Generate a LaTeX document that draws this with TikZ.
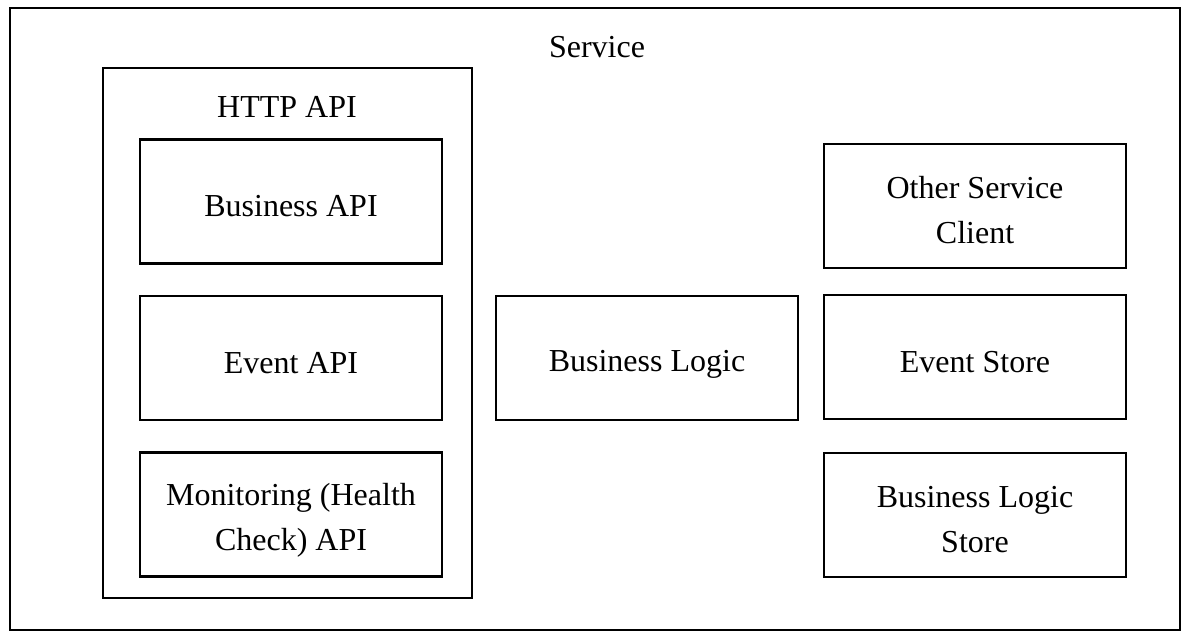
\documentclass[tikz,border=0pt]{standalone}
\usepackage{fontspec}
\setmainfont{Liberation Serif}
\newcommand\tstr{\rule[-2.8pt]{0pt}{28.8pt}}
\begin{document}
\begin{tikzpicture}[x=0.75pt,y=-0.75pt,
  box/.style={draw=black,line width=1.6pt,rectangle,inner sep=0pt,align=center,
    font=\fontsize{24}{33.75}\selectfont},
  inbox/.style={box,minimum width=302*0.75pt,minimum height=124*0.75pt},
  lbl/.style={inner sep=0pt,font=\fontsize{24}{33.75}\selectfont}]
\useasboundingbox[fill=white] (0,0) rectangle (1191,638);
\node[box,minimum width=1170*0.75pt,minimum height=622*0.75pt] (service) at (595,319) {};
\node[lbl] (servicelbl) at (597,47) {Service};
\node[box,minimum width=369*0.75pt,minimum height=530*0.75pt] (http) at (287.5,333) {};
\node[lbl] (httplbl) at (287,106.5) {HTTP API};
\node[inbox] (bapi) at (291,201.5) {\tstr Business API};
\node[inbox] (eapi) at (291,358) {\tstr Event API};
\node[inbox] (mapi) at (291,514.5) {\tstr Monitoring (Health\\\tstr Check) API};
\node[inbox] (blogic) at (647,358) {\tstr Business Logic};
\node[inbox] (osc) at (975,206) {\tstr Other Service\\\tstr Client};
\node[inbox] (estore) at (975,357) {\tstr Event Store};
\node[inbox] (blstore) at (975,515) {\tstr Business Logic\\\tstr Store};
\end{tikzpicture}
\end{document}
